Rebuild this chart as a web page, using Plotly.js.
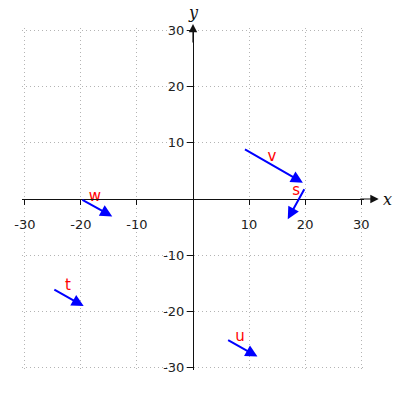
<!DOCTYPE html>
<html><head><meta charset="utf-8">
<script src="https://cdn.plot.ly/plotly-3.0.1.min.js"></script>
<style>html,body{margin:0;padding:0;background:#fff}</style>
</head><body><div id="chart" style="width:400px;height:400px"></div>
<script>
const names = ['v', 's', 'w', 't', 'u'];
const tailX = [9, 20, -20, -25, 6];
const tailY = [9, 2, 0, -16, -25];
const headX = [19.6, 16.9, -14.4, -19.5, 11.5];
const headY = [2.9, -3.6, -3.1, -19.1, -28.1];
const labelX = [14.1, 18.4, -17.5, -22.3, 8.4];
const labelY = [7.5, 1.3, 0.4, -15.5, -24.6];
const tickVals = [-30, -20, -10, 10, 20, 30];
const tickText = ['-30', '-20', '-10', '10', '20', '30'];

const arrows = names.map((n, i) => ({
  xref: 'x', yref: 'y', axref: 'x', ayref: 'y',
  x: headX[i], y: headY[i], ax: tailX[i], ay: tailY[i],
  text: '', showarrow: true, arrowhead: 2, arrowsize: 1.2, arrowwidth: 2,
  arrowcolor: '#0000ff', standoff: 0, startstandoff: 0
}));

const axisDeco = [
  {xref: 'paper', yref: 'y', x: 1.043, y: 0, axref: 'pixel', ayref: 'pixel', ax: -20, ay: 0,
   text: '', showarrow: true, arrowhead: 2, arrowsize: 1.4, arrowwidth: 1.2, arrowcolor: '#111', standoff: 0},
  {xref: 'x', yref: 'paper', x: 0, y: 1.012, axref: 'pixel', ayref: 'pixel', ax: 0, ay: 20,
   text: '', showarrow: true, arrowhead: 2, arrowsize: 1.4, arrowwidth: 1.2, arrowcolor: '#111', standoff: 0},
  {xref: 'paper', yref: 'y', x: 1.068, y: 0, xanchor: 'center', yanchor: 'middle', showarrow: false,
   text: 'x', font: {family: 'DejaVu Serif', size: 16, style: 'italic', color: '#111'}},
  {xref: 'x', yref: 'paper', x: 0, y: 1.046, xanchor: 'center', yanchor: 'middle', showarrow: false,
   text: 'y', font: {family: 'DejaVu Serif', size: 16, style: 'italic', color: '#111'}}
];

const trace = {
  type: 'scatter', mode: 'text', x: labelX, y: labelY, text: names,
  textfont: {family: 'DejaVu Sans', size: 15, color: '#ff0000'},
  textposition: 'middle center', cliponaxis: false, hoverinfo: 'skip', showlegend: false
};

const axBase = {
  range: [-30.5, 30.5], tickvals: tickVals, ticktext: tickText,
  showgrid: true, gridcolor: '#b4b4b4', griddash: '1px,3px', gridwidth: 1,
  zeroline: false, showline: true, linecolor: '#111', linewidth: 1.2,
  ticks: 'outside', ticklen: 5, tickcolor: '#111', tickwidth: 1,
  tickfont: {family: 'DejaVu Sans', size: 13, color: '#222'},
  anchor: 'free', position: 0.5, fixedrange: true
};

const layout = {
  width: 400, height: 400,
  margin: {l: 22.2, r: 36.2, t: 28.2, b: 30.2},
  paper_bgcolor: '#fff', plot_bgcolor: '#fff',
  xaxis: Object.assign({}, axBase, {ticklabelstandoff: 8}),
  yaxis: Object.assign({}, axBase, {ticklen: 6}),
  annotations: arrows.concat(axisDeco),
  showlegend: false
};

Plotly.newPlot('chart', [trace], layout, {displayModeBar: false, staticPlot: true});
</script></body></html>
